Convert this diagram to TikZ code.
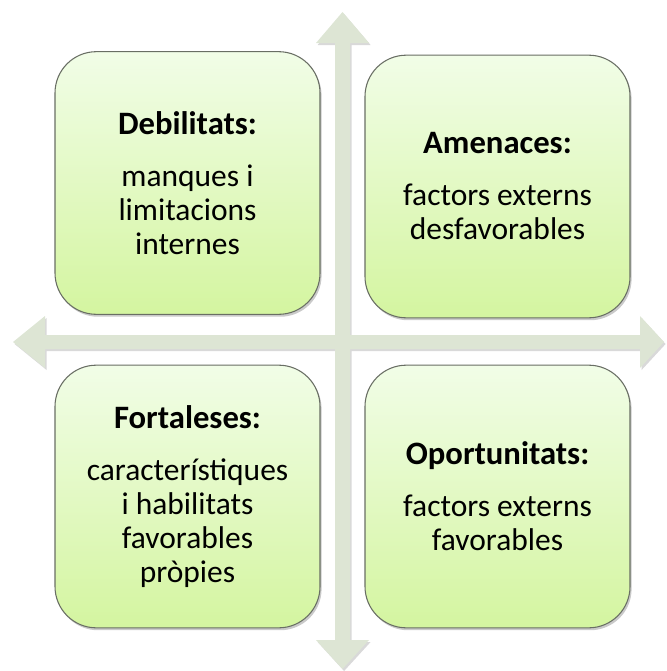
\documentclass[tikz,border=0pt]{standalone}
\usepackage{fontspec}
\setmainfont{Carlito}
\usetikzlibrary{shadows,shadings}
\definecolor{arrowgreen}{RGB}{221,229,212}
\definecolor{boxtop}{RGB}{241,253,231}
\definecolor{boxbot}{RGB}{212,245,160}
\definecolor{boxline}{RGB}{105,110,100}
\tikzset{
  swotbox/.style={rectangle, rounded corners=31pt, minimum width=198.75pt, minimum height=197pt,
    top color=boxtop, bottom color=boxbot, draw=boxline, line width=0.8pt,
    drop shadow={shadow xshift=1.2pt, shadow yshift=-1.8pt, opacity=0.35, fill=black!60},
    align=center, font=\fontsize{23.6}{25.5}\selectfont, inner sep=0pt},
  crossarrow/.style={fill=arrowgreen, drop shadow={shadow xshift=1.2pt, shadow yshift=-1.5pt, opacity=0.3, fill=black!50}}
}
\newcommand{\swotttl}[1]{{\fontsize{24.5}{25.5}\selectfont\bfseries #1}}
\begin{document}
\begin{tikzpicture}[x=0.75pt, y=-0.75pt]
\useasboundingbox (0,0) rectangle (667,671);
% cross arrows
\path[crossarrow] (342.5,12) -- (369,43) -- (350,43) -- (350,335) -- (640,335) -- (640,316)
  -- (664,342) -- (640,368) -- (640,349) -- (350,349) -- (350,640) -- (369,640)
  -- (342.5,669) -- (316,640) -- (335,640) -- (335,349) -- (45,349) -- (45,368)
  -- (13,342) -- (45,316) -- (45,335) -- (335,335) -- (335,43) -- (316,43) -- cycle;
% boxes
\node[swotbox] (deb) at (187.5,183) {\swotttl{Debilitats:}\\[13.5pt]manques i\\limitacions\\internes};
\node[swotbox] (ame) at (497.5,186.5) {\swotttl{Amenaces:}\\[13.5pt]factors externs\\desfavorables};
\node[swotbox] (fort) at (187.5,496.5) {\swotttl{Fortaleses:}\\[13.5pt]característiques\\i habilitats\\favorables\\pròpies};
\node[swotbox] (opo) at (497.5,496.5) {\swotttl{Oportunitats:}\\[13.5pt]factors externs\\favorables};
\end{tikzpicture}
\end{document}
